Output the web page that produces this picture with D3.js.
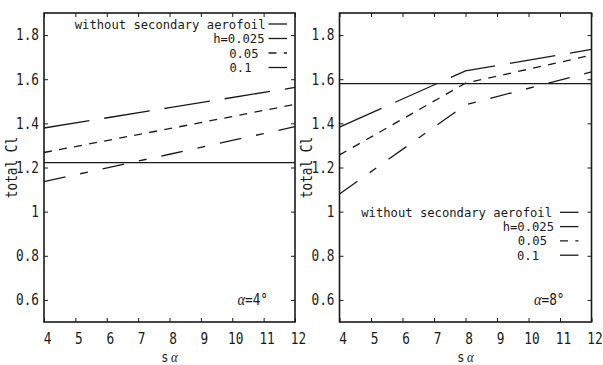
<!DOCTYPE html>
<html><head><meta charset="utf-8">
<script src="https://cdn.jsdelivr.net/npm/d3@7"></script>
<style>body{margin:0;background:#fff}svg{display:block}</style>
</head><body>
<svg id="c" width="603" height="365"></svg>
<script>
// ---- data ----
const sAlpha = [4, 8, 12];
const xTicks = [4, 5, 6, 7, 8, 9, 10, 11, 12];
const yTicks = [0.6, 0.8, 1.0, 1.2, 1.4, 1.6, 1.8];
const yTickLabels = ["0.6", "0.8", "1", "1.2", "1.4", "1.6", "1.8"];
const seriesNames = ["without secondary aerofoil", "h=0.025", "0.05", "0.1"];
const panelTitles = ["4°", "8°"];
// alpha = 4 deg
const a4Without = [1.222, 1.222, 1.222];
const a4H025 = [1.379, 1.471, 1.563];
const a4H05 = [1.268, 1.376, 1.486];
const a4H1 = [1.136, 1.260, 1.385];
// alpha = 8 deg
const a8Without = [1.580, 1.580, 1.580];
const a8H025 = [1.383, 1.638, 1.735];
const a8H05 = [1.257, 1.582, 1.709];
const a8H1 = [1.080, 1.484, 1.633];

// ---- styles ----
const dashes = [null, "46,15", "8,7.3", "22,15,8,15"];
const FONT = "'DejaVu Sans Mono', 'Liberation Mono', monospace";
const INK = "#1a1a1a";

const svg = d3.select("#c");

function txt(g, x, y, str, anchor, rot, size, sx) {
  const t = g.append("text")
    .attr("transform", `translate(${x},${y})` + (rot ? ` rotate(${rot})` : "") + ` scale(${sx || 0.85},1)`)
    .attr("text-anchor", anchor || "start")
    .attr("font-family", FONT).attr("font-size", size || 15).attr("fill", INK);
  if (str !== null) t.text(str);
  return t;
}

const panels = [
  {x0: 44, x1: 295, series: [a4Without, a4H025, a4H05, a4H1], title: panelTitles[0],
   legX: 268.5, legY: 24, legStep: 14.5, legDx: [-3, -4, -10, -17]},
  {x0: 339.5, x1: 591.5, series: [a8Without, a8H025, a8H05, a8H1], title: panelTitles[1],
   legX: 560, legY: 212.3, legStep: 14.3, legDx: [-8, -6, -13, -21]}
];
const yTop = 13, yBot = 322;

panels.forEach(p => {
  const g = svg.append("g");
  const x = d3.scaleLinear().domain([4, 12]).range([p.x0, p.x1]);
  const y = d3.scaleLinear().domain([0.5, 1.9]).range([yBot, yTop]);

  // data lines
  const line = d3.line().x((d, i) => x(sAlpha[i])).y(d => y(d));
  p.series.forEach((s, k) => {
    g.append("path").attr("d", line(s)).attr("fill", "none")
      .attr("stroke", INK).attr("stroke-width", 1.3)
      .attr("stroke-dasharray", dashes[k]);
  });

  // axes with inward ticks on all sides
  const tl = 4;
  const axB = g.append("g").attr("transform", `translate(0,${yBot})`)
    .call(d3.axisBottom(x).tickValues(xTicks).tickSize(-tl).tickFormat(""));
  const axT = g.append("g").attr("transform", `translate(0,${yTop})`)
    .call(d3.axisTop(x).tickValues(xTicks).tickSize(-tl).tickFormat(""));
  const axL = g.append("g").attr("transform", `translate(${p.x0},0)`)
    .call(d3.axisLeft(y).tickValues(yTicks).tickSize(-tl).tickFormat(""));
  const axR = g.append("g").attr("transform", `translate(${p.x1},0)`)
    .call(d3.axisRight(y).tickValues(yTicks).tickSize(-tl).tickFormat(""));
  [axB, axT, axL, axR].forEach(a => {
    a.select(".domain").remove();
    a.selectAll("line").attr("stroke", INK).attr("stroke-width", 1);
  });
  g.append("rect").attr("x", p.x0).attr("y", yTop)
    .attr("width", p.x1 - p.x0).attr("height", yBot - yTop)
    .attr("fill", "none").attr("stroke", INK).attr("stroke-width", 1.6);

  // tick labels
  xTicks.forEach(v => txt(g, x(v) + 3.5, 343.5, String(v), "middle"));
  yTicks.forEach((v, i) => txt(g, p.x0 - 5, y(v) + 5.3, yTickLabels[i], "end"));

  // axis titles
  const xl = txt(g, (p.x0 + p.x1) / 2, 362, null, "middle", 0, 14);
  xl.append("tspan").text("s");
  xl.append("tspan").attr("dx", 3).attr("font-style", "italic")
    .attr("font-family", "'Liberation Serif', serif").attr("font-size", 15).text("α");
  txt(g, p.x0 - 27.5, (yTop + yBot) / 2, "total Cl", "middle", -90);

  // panel annotation
  const an = txt(g, p.x1 - 27, 305, null, "end");
  an.append("tspan").attr("font-style", "italic")
    .attr("font-family", "'Liberation Serif', serif").attr("font-size", 17).text("α");
  an.append("tspan").text("=" + p.title);

  // legend
  seriesNames.forEach((name, k) => {
    const cy = p.legY + k * p.legStep;
    txt(g, p.legX + p.legDx[k], cy + 4.5, name, "end", 0, 12.2, 1.0);
    g.append("line").attr("x1", p.legX).attr("x2", p.legX + 18.5)
      .attr("y1", cy).attr("y2", cy)
      .attr("stroke", INK).attr("stroke-width", 1.3)
      .attr("stroke-dasharray", dashes[k]);
  });
});
</script>
</body></html>
